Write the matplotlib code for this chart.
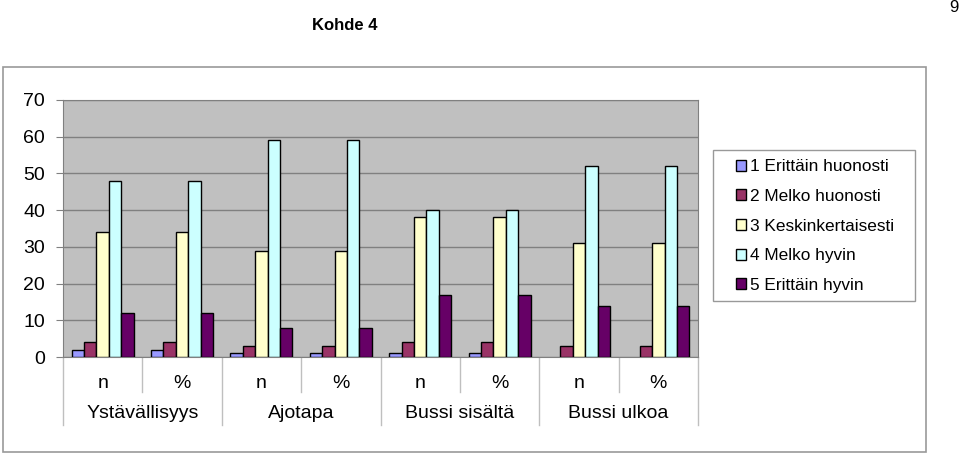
import matplotlib.pyplot as plt
import matplotlib.transforms as mtransforms
from matplotlib.patches import Rectangle
import numpy as np

plt.rcParams['font.family'] = ['Liberation Sans', 'DejaVu Sans']

# data
groups = ["Ystävällisyys", "Ajotapa", "Bussi sisältä", "Bussi ulkoa"]
sub_labels = ["n", "%"]
series_names = ["1 Erittäin huonosti", "2 Melko huonosti", "3 Keskinkertaisesti",
                "4 Melko hyvin", "5 Erittäin hyvin"]
s1 = [2, 2, 1, 1, 1, 1, 0, 0]
s2 = [4, 4, 3, 3, 4, 4, 3, 3]
s3 = [34, 34, 29, 29, 38, 38, 31, 31]
s4 = [48, 48, 59, 59, 40, 40, 52, 52]
s5 = [12, 12, 8, 8, 17, 17, 14, 14]
colors = ["#9999FF", "#993366", "#FFFFCC", "#CCFFFF", "#660066"]

W, H = 960, 457
fig = plt.figure(figsize=(W / 100, H / 100), dpi=100)

# outer chart border
fig.patches.append(Rectangle((3 / W, 1 - 452 / H), 923 / W, 385 / H,
                             transform=fig.transFigure, fill=False,
                             edgecolor="#999999", linewidth=1.2))

ax = fig.add_axes([63 / W, 1 - 357 / H, 635 / W, 257 / H])
ax.set_facecolor("#C0C0C0")

x = np.arange(8)
bw = 0.156
all_series = [s1, s2, s3, s4, s5]
for i, (vals, col, name) in enumerate(zip(all_series, colors, series_names)):
    lws = [1.0 if v > 0 else 0 for v in vals]
    ax.bar(x + (i - 2) * bw, vals, width=bw, color=col, edgecolor="black",
           linewidth=lws, label=name, zorder=3)

ax.set_xlim(-0.5, 7.5)
ax.set_ylim(0, 70)
ax.set_yticks(range(0, 71, 10))
ax.tick_params(axis="y", labelsize=14, length=5, color="#808080", pad=8)
ax.set_xticks([])
ax.yaxis.grid(True, color="#808080", linewidth=1.0, zorder=0)
ax.set_axisbelow(True)
for side in ["top", "right", "left", "bottom"]:
    ax.spines[side].set_color("#808080")

# two-level category axis
trans = mtransforms.blended_transform_factory(ax.transData, ax.transAxes)
px = 1 / 257
for k in range(8):
    ax.text(k, -26 * px, sub_labels[k % 2], transform=trans, ha="center",
            va="center", fontsize=14)
for g, name in enumerate(groups):
    ax.text(2 * g + 0.5, -57 * px, name, transform=trans, ha="center",
            va="center", fontsize=14)
for b in np.arange(-0.5, 8, 1.0):
    long_line = int(round(b + 0.5)) % 2 == 0
    bottom = -68 * px if long_line else -35 * px
    ax.plot([b, b], [0, bottom], transform=trans, color="#BFBFBF",
            linewidth=1.0, clip_on=False)

# legend box drawn separately so the padding can match
fig.patches.append(Rectangle((713 / W, 1 - 301 / H), 202 / W, 151 / H,
                             transform=fig.transFigure, fill=False,
                             edgecolor="#999999", linewidth=1.0))
handles, labels = ax.get_legend_handles_labels()
leg = fig.legend(handles, labels, loc="center",
                 bbox_to_anchor=(815 / W, 1 - 226 / H),
                 fontsize=12.4, frameon=False, handlelength=0.6,
                 handleheight=0.6, handletextpad=0.2, labelspacing=0.85,
                 borderpad=0, borderaxespad=0)

fig.text(345 / W, 1 - 26 / H, "Kohde 4", ha="center", va="center",
         fontsize=12, fontweight="bold")
fig.text(959 / W, 1 - 7 / H, "9", ha="right", va="center", fontsize=12)

fig.savefig("out.png", dpi=100)
